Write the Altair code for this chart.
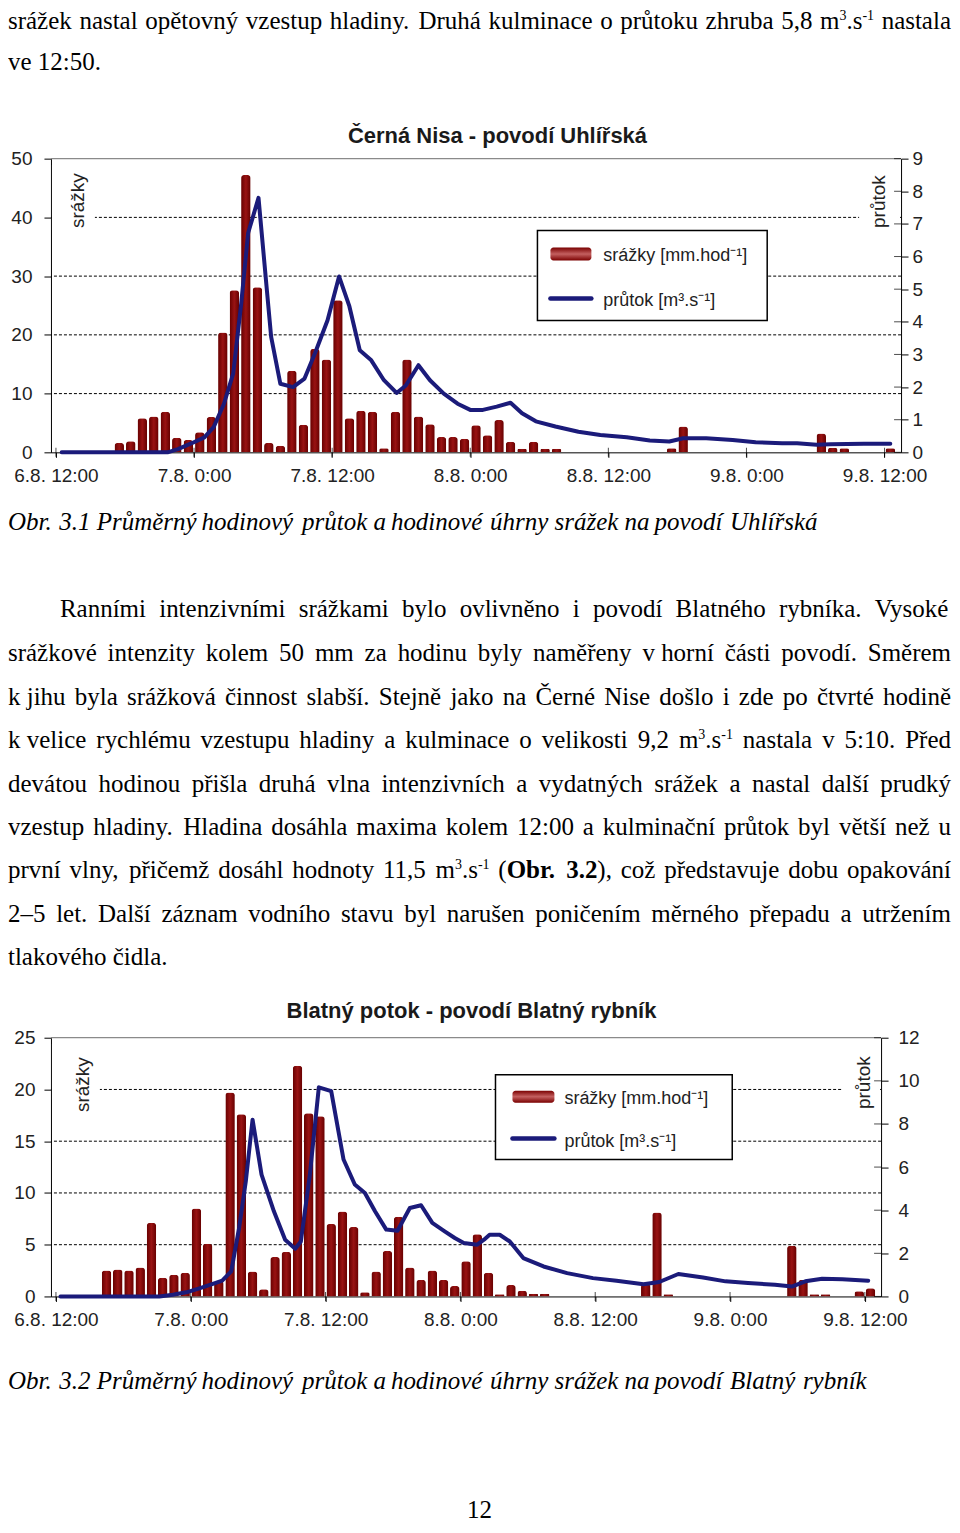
import unicodedata
import altair as alt
import pandas as pd

# ------------------------------------------------------------------ data
TICK_HOURS = [0, 12, 24, 36, 48, 60, 72]
TICK_LABELS = ["6.8. 12:00", "7.8. 0:00", "7.8. 12:00", "8.8. 0:00",
               "8.8. 12:00", "9.8. 0:00", "9.8. 12:00"]

# Černá Nisa – povodí Uhlířská
C1_BAR_HOURS = [5.5, 6.5, 7.5, 8.5, 9.5, 10.5, 11.5, 12.5, 13.5, 14.5, 15.5, 16.5,
                17.5, 18.5, 19.5, 20.5, 21.5, 22.5, 23.5, 24.5, 25.5, 26.5, 27.5,
                28.5, 29.5, 30.5, 31.5, 32.5, 33.5, 34.5, 35.5, 36.5, 37.5, 38.5,
                39.5, 40.5, 41.5, 42.5, 43.5, 53.5, 54.5, 66.5, 67.5, 68.5, 72.5]
C1_BAR_VALS = [1.6, 1.9, 5.8, 6.1, 6.9, 2.5, 2.1, 3.4, 6.0, 20.4, 27.6, 47.2,
               28.1, 1.6, 1.1, 13.9, 4.7, 17.6, 15.8, 25.9, 5.8, 7.1, 6.9,
               0.7, 6.9, 15.8, 6.1, 4.8, 2.6, 2.6, 2.3, 4.6, 2.9, 5.5,
               1.8, 0.6, 1.8, 0.6, 0.6, 0.7, 4.4, 3.2, 0.8, 0.7, 0.7]
C1_FLOW_HOURS = [0.5, 9.7, 10.6, 11.8, 12.9, 13.7, 14.6, 15.4, 16.1, 16.7, 17.6, 18.3,
                 18.7, 19.5, 20.6, 21.6, 22.5, 23.6, 24.6, 25.5, 26.4, 27.4, 28.5,
                 29.6, 30.4, 31.5, 32.5, 33.7, 34.9, 36.0, 37.1, 38.3, 39.5, 40.5,
                 41.7, 43.4, 45.4, 47.3, 49.6, 51.6, 53.3, 54.5, 56.5, 58.8, 60.8,
                 63.1, 64.4, 66.1, 67.3, 70.2, 72.5]
C1_FLOW_VALS = [0, 0, 0.1, 0.28, 0.46, 0.77, 1.49, 2.41, 4.57, 6.72, 7.8, 5.08,
                3.54, 2.1, 2.0, 2.26, 3.03, 4.05, 5.39, 4.47, 3.13, 2.82, 2.21,
                1.82, 2.05, 2.67, 2.21, 1.8, 1.49, 1.3, 1.3, 1.4, 1.52, 1.2,
                0.95, 0.79, 0.63, 0.53, 0.46, 0.36, 0.33, 0.43, 0.43, 0.38, 0.31,
                0.28, 0.28, 0.23, 0.25, 0.26, 0.26]
C1_LEFT_TICKS = [0, 10, 20, 30, 40, 50]
C1_GRID = [10, 20, 30, 40]
C1_RIGHT_TICKS = [0, 1, 2, 3, 4, 5, 6, 7, 8, 9]

# Blatný potok – povodí Blatný rybník
C2_BAR_HOURS = [4.5, 5.5, 6.5, 7.5, 8.5, 9.5, 10.5, 11.5, 12.5, 13.5, 14.5, 15.5,
                16.5, 17.5, 18.5, 19.5, 20.5, 21.5, 22.5, 23.5, 24.5, 25.5, 26.5,
                27.5, 28.5, 29.5, 30.5, 31.5, 32.5, 33.5, 34.5, 35.5, 36.5, 37.5,
                38.5, 39.5, 40.5, 41.5, 42.5, 43.5, 52.5, 53.5, 54.5, 65.5, 66.5,
                67.5, 68.5, 71.5, 72.5]
C2_BAR_VALS = [2.5, 2.6, 2.5, 2.8, 7.1, 1.8, 2.1, 2.3, 8.5, 5.1, 1.5, 19.7,
               17.6, 2.4, 0.7, 3.8, 4.3, 22.3, 17.7, 17.4, 7.0, 8.2, 6.7,
               0.4, 2.4, 4.4, 7.7, 2.8, 1.6, 2.5, 1.6, 1.0, 3.4, 6.0,
               2.3, 0.2, 1.1, 0.55, 0.25, 0.25, 1.2, 8.1, 0.2, 4.9, 1.6,
               0.2, 0.2, 0.5, 0.8]
C2_FLOW_HOURS = [0.4, 9.2, 10.4, 11.6, 12.7, 13.9, 14.8, 15.6, 16.3, 16.9, 17.5, 18.3,
                 19.4, 20.4, 21.3, 21.8, 22.6, 23.4, 24.5, 25.6, 26.6, 27.5, 28.4,
                 29.4, 30.4, 31.5, 32.5, 33.5, 34.6, 35.5, 36.3, 37.5, 38.1, 38.6,
                 39.5, 40.4, 41.6, 43.4, 45.5, 47.8, 49.9, 52.3, 53.7, 55.4, 57.6,
                 59.6, 61.6, 64.0, 65.5, 66.7, 68.2, 70.0, 72.3]
C2_FLOW_VALS = [0, 0, 0.08, 0.19, 0.36, 0.57, 0.73, 1.16, 3.17, 5.34, 8.2, 5.65,
                3.95, 2.63, 2.21, 2.55, 5.65, 9.7, 9.52, 6.35, 5.19, 4.8, 3.95,
                3.1, 3.05, 4.1, 4.23, 3.41, 3.02, 2.71, 2.48, 2.4, 2.63, 2.86,
                2.86, 2.55, 1.78, 1.39, 1.08, 0.85, 0.73, 0.57, 0.67, 1.04, 0.88,
                0.7, 0.62, 0.54, 0.46, 0.7, 0.82, 0.8, 0.73]
C2_LEFT_TICKS = [0, 5, 10, 15, 20, 25]
C2_GRID = [5, 10, 15, 20]
C2_RIGHT_TICKS = [0, 2, 4, 6, 8, 10, 12]

TITLE_1 = "Černá Nisa - povodí Uhlířská"
TITLE_2 = "Blatný potok - povodí Blatný rybník"
LEG_RAIN = "srážky [mm.hod⁻¹]"
LEG_FLOW = "průtok [m³.s⁻¹]"
AX_RAIN = "srážky"
AX_FLOW = "průtok"

# page text: pieces (text, style) n=normal b=bold i=italic s=superscript
NB = "\u00a0"
TOP_LINES = [
    [("srážek nastal opětovný vzestup hladiny. Druhá kulminace o průtoku zhruba 5,8 m", "n"),
     ("3", "s"), (".s", "n"), ("-1", "s"), (" nastala", "n")],
    [("ve 12:50.", "n")],
]
CAPTION_1 = [("Obr. 3.1 Průměrný hodinový průtok a hodinové úhrny srážek na povodí Uhlířská", "i")]
PARAGRAPH = [
    [("Ranními intenzivními srážkami bylo ovlivněno i povodí Blatného rybníka. Vysoké", "n")],
    [("srážkové intenzity kolem 50 mm za hodinu byly naměřeny v" + NB + "horní části povodí. Směrem", "n")],
    [("k" + NB + "jihu byla srážková činnost slabší. Stejně jako na Černé Nise došlo i zde po čtvrté hodině", "n")],
    [("k" + NB + "velice rychlému vzestupu hladiny a kulminace o velikosti 9,2 m", "n"),
     ("3", "s"), (".s", "n"), ("-1", "s"), (" nastala v 5:10. Před", "n")],
    [("devátou hodinou přišla druhá vlna intenzivních a vydatných srážek a nastal další prudký", "n")],
    [("vzestup hladiny. Hladina dosáhla maxima kolem 12:00 a kulminační průtok byl větší než u", "n")],
    [("první vlny, přičemž dosáhl hodnoty 11,5 m", "n"), ("3", "s"), (".s", "n"), ("-1", "s"),
     (" (", "n"), ("Obr. 3.2", "b"), ("), což představuje dobu opakování", "n")],
    [("2–5 let. Další záznam vodního stavu byl narušen poničením měrného přepadu a utržením", "n")],
    [("tlakového čidla.", "n")],
]
CAPTION_2 = [("Obr. 3.2 Průměrný hodinový průtok a hodinové úhrny srážek na povodí Blatný rybník", "i")]
PAGE_NO = [("12", "n")]

# ------------------------------------------------------------------ styling / layout
SERIF = "Liberation Serif"
SANS = "Liberation Sans"
BODY_FS = 25
SUP_FS = 14
SUP_RISE = 9
TEXT_LEFT = 8
TEXT_RIGHT = 952
PLOT_LEFT = 51
C1_W, C1_H = 851, 294
C2_W, C2_H = 831, 259
AX_FS = 19

REG_W = {' ': 250, NB: 250, 'a': 444, 'b': 500, 'c': 444, 'd': 500, 'e': 444, 'f': 333,
         'g': 500, 'h': 500, 'i': 278, 'j': 278, 'k': 500, 'l': 278, 'm': 778, 'n': 500,
         'o': 500, 'p': 500, 'q': 500, 'r': 333, 's': 389, 't': 278, 'u': 500, 'v': 500,
         'w': 722, 'x': 500, 'y': 500, 'z': 444, 'A': 722, 'B': 667, 'C': 667, 'D': 722,
         'E': 611, 'F': 556, 'G': 722, 'H': 722, 'I': 333, 'J': 389, 'K': 722, 'L': 611,
         'M': 889, 'N': 722, 'O': 722, 'P': 556, 'Q': 722, 'R': 667, 'S': 556, 'T': 611,
         'U': 722, 'V': 722, 'W': 944, 'X': 722, 'Y': 722, 'Z': 611, '.': 250, ',': 250,
         ':': 278, ';': 278, '-': 333, '–': 500, '(': 333, ')': 333}
BOLD_W = {'O': 778, 'b': 556, 'r': 444}


def char_w(c, st):
    if st == 'b' and c in BOLD_W:
        return BOLD_W[c]
    if c.isdigit():
        return 500
    if c in REG_W:
        return REG_W[c]
    return REG_W.get(unicodedata.normalize('NFD', c)[0], 500)


def piece_w(text, st):
    fs = SUP_FS if st == 's' else BODY_FS
    return sum(char_w(c, st) for c in text) * fs / 1000.0


def layout_line(pieces, left, base, justify):
    words = [[]]
    for text, st in pieces:
        parts = text.split(' ')
        for k, part in enumerate(parts):
            if k > 0:
                words.append([])
            if part:
                words[-1].append((part, st))
    words = [w for w in words if w]
    widths = [sum(piece_w(t, s) for t, s in w) for w in words]
    if justify and len(words) > 1:
        gap = (TEXT_RIGHT - left - sum(widths)) / (len(words) - 1)
    else:
        gap = BODY_FS * 0.25
    rows, x = [], left
    for w, ww in zip(words, widths):
        cx = x
        for t, s in w:
            rows.append({'x': cx, 'y': base - (SUP_RISE if s == 's' else 0), 't': t, 'st': s})
            cx += piece_w(t, s)
        x += ww + gap
    return rows


STYLE_PROPS = {
    'n': dict(fontSize=BODY_FS),
    'b': dict(fontSize=BODY_FS, fontWeight='bold'),
    'i': dict(fontSize=BODY_FS, fontStyle='italic'),
    's': dict(fontSize=SUP_FS),
}


def text_cell(specs, origin, height):
    rows = []
    for pieces, left, base, justify in specs:
        rows += layout_line(pieces, left, base, justify)
    df = pd.DataFrame(rows)
    df['x'] = df['x'] - PLOT_LEFT
    df['y'] = df['y'] - origin
    layers = []
    for st, props in STYLE_PROPS.items():
        sub = df[df['st'] == st]
        if len(sub) == 0:
            continue
        layers.append(alt.Chart(sub).mark_text(font=SERIF, align='left', baseline='alphabetic',
                                               color='black', **props).encode(
            x=alt.X('x:Q', scale=None, axis=None),
            y=alt.Y('y:Q', scale=None, axis=None),
            text='t:N'))
    return alt.layer(*layers).properties(width=C1_W, height=height)


ONE = pd.DataFrame({'k': [0]})


def px_rect(x1, x2, y1, y2, **kw):
    return alt.Chart(ONE).mark_rect(**kw).encode(
        x=alt.value(x1), x2=alt.value(x2), y=alt.value(y1), y2=alt.value(y2))


def px_rule(x1, x2, y1, y2, **kw):
    return alt.Chart(ONE).mark_rule(**kw).encode(
        x=alt.value(x1), x2=alt.value(x2), y=alt.value(y1), y2=alt.value(y2))


def px_text(x, y, text, **kw):
    return alt.Chart(ONE).mark_text(**kw).encode(
        x=alt.value(x), y=alt.value(y), text=alt.value(text))


BAR_GRAD = alt.Gradient(gradient='linear', x1=0, x2=1, y1=0, y2=0, stops=[
    alt.GradientStop(offset=0, color='#660000'),
    alt.GradientStop(offset=0.5, color='#991313'),
    alt.GradientStop(offset=1, color='#660000')])
SWATCH_GRAD = alt.Gradient(gradient='linear', x1=0, x2=0, y1=0, y2=1, stops=[
    alt.GradientStop(offset=0, color='#7a0000'),
    alt.GradientStop(offset=0.5, color='#c46060'),
    alt.GradientStop(offset=1, color='#7a0000')])
FLOW_COLOR = '#1b1b7a'
LABEL_EXPR = ("[" + ",".join("'%s'" % s for s in TICK_LABELS) + "][indexof("
              + str(TICK_HOURS) + ", datum.value)]")


def axis_common():
    return dict(title=None, grid=False, domainColor='black', tickColor='black',
                labelFont=SANS, labelFontSize=AX_FS, labelColor='#222')


def build_chart(bar_h, bar_v, flow_h, flow_v, ymax, grid_vals, left_ticks, left_pad,
                rmax, right_ticks, right_pad, width, height, ov):
    xscale = alt.Scale(domain=[0, 73], nice=False, zero=False)
    xaxis = alt.Axis(values=TICK_HOURS, labelExpr=LABEL_EXPR, tickSize=5, labelPadding=9,
                     labelFlush=False, labelOverlap=False, **axis_common())
    lscale = alt.Scale(domain=[0, ymax], nice=False)
    laxis = alt.Axis(values=left_ticks, tickSize=7, labelPadding=left_pad, **axis_common())
    rscale = alt.Scale(domain=[0, rmax], nice=False)
    raxis = alt.Axis(orient='right', values=right_ticks, tickSize=7, labelPadding=right_pad,
                     **axis_common())

    grid = alt.Chart(pd.DataFrame({'v': grid_vals})).mark_rule(
        color='black', strokeDash=[3, 2], strokeWidth=1).encode(
        y=alt.Y('v:Q', scale=lscale, axis=laxis))
    bars = alt.Chart(pd.DataFrame({'h': bar_h, 'v': bar_v})).mark_bar(
        size=9.5, color=BAR_GRAD, cornerRadiusTopLeft=3, cornerRadiusTopRight=3).encode(
        x=alt.X('h:Q', scale=xscale, axis=xaxis),
        y=alt.Y('v:Q', scale=lscale, axis=laxis))
    xticks_in = alt.Chart(pd.DataFrame({'h': TICK_HOURS})).mark_tick(
        color='black', thickness=1, size=9).encode(
        x=alt.X('h:Q', scale=xscale, axis=xaxis), y=alt.value(height))
    top_border = px_rule(0, width, 0, 0, color='#8a8a8a', strokeWidth=1.2)
    whites = [px_rect(*ov['white_l'], color='white'), px_rect(*ov['white_r'], color='white')]
    overlay = [
        px_text(ov['title'][0], ov['title'][1], ov['title_text'], font=SANS, fontSize=22,
                fontWeight='bold', color='#1a1a1a', align='center', baseline='alphabetic'),
        px_text(ov['ax_l'][0], ov['ax_l'][1], AX_RAIN, font=SANS, fontSize=19, angle=270,
                color='#222', align='center', baseline='middle'),
        px_text(ov['ax_r'][0], ov['ax_r'][1], AX_FLOW, font=SANS, fontSize=19, angle=270,
                color='#222', align='center', baseline='middle'),
        px_rect(*ov['box'], fill='white', stroke='black', strokeWidth=1.5),
        px_rect(*ov['sw_rain'], color=SWATCH_GRAD, cornerRadius=3),
        px_rule(ov['sw_flow'][0], ov['sw_flow'][1], ov['sw_flow'][2], ov['sw_flow'][2],
                color=FLOW_COLOR, strokeWidth=4.5, strokeCap='round'),
        px_text(ov['t_rain'][0], ov['t_rain'][1], LEG_RAIN, font=SANS, fontSize=18,
                color='#222', align='left', baseline='alphabetic'),
        px_text(ov['t_flow'][0], ov['t_flow'][1], LEG_FLOW, font=SANS, fontSize=18,
                color='#222', align='left', baseline='alphabetic'),
    ]
    left = alt.layer(grid, *whites, top_border, bars, xticks_in, *overlay)
    flow = alt.Chart(pd.DataFrame({'h': flow_h, 'q': flow_v})).mark_line(
        color=FLOW_COLOR, strokeWidth=4, strokeJoin='round', strokeCap='round').encode(
        x=alt.X('h:Q', scale=xscale, axis=xaxis),
        y=alt.Y('q:Q', scale=rscale, axis=raxis))
    rticks_in = alt.Chart(pd.DataFrame({'q': right_ticks})).mark_tick(
        color='black', thickness=1, size=7).encode(
        y=alt.Y('q:Q', scale=rscale, axis=raxis), x=alt.value(width - 3.5))
    right = alt.layer(flow, rticks_in)
    return alt.layer(left, right).resolve_scale(y='independent').properties(
        width=width, height=height)


# cell origins (page y of each stacked cell)
T1_O, C1_O, T2_O, C2_O, T3_O = 8, 158, 452, 1038, 1297
T3_H = 227


def r1(x, y):
    return (x - PLOT_LEFT, y - C1_O)


def r2(x, y):
    return (x - PLOT_LEFT, y - C2_O)


ov1 = dict(
    title=r1(498, 142), title_text=TITLE_1,
    ax_l=r1(78, 200), ax_r=r1(880, 201),
    white_l=(1, 44, 6, 72), white_r=(809, 850, 6, 72),
    box=(487, 717, 72, 162),
    sw_rain=(500, 541, 89, 102), sw_flow=(500, 541, 140),
    t_rain=r1(604, 260), t_flow=r1(604, 306),
)
ov2 = dict(
    title=r2(472, 1018), title_text=TITLE_2,
    ax_l=r2(83, 1085), ax_r=r2(865, 1083),
    white_l=(1, 49, 6, 62), white_r=(792, 830, 6, 62),
    box=(445, 682, 37, 122),
    sw_rain=(462, 504, 53, 65), sw_flow=(462, 504, 101),
    t_rain=r2(565, 1104), t_flow=r2(565, 1147),
)

chart1 = build_chart(C1_BAR_HOURS, C1_BAR_VALS, C1_FLOW_HOURS, C1_FLOW_VALS, 50, C1_GRID,
                     C1_LEFT_TICKS, 12, 9, C1_RIGHT_TICKS, 4, C1_W, C1_H, ov1)
chart2 = build_chart(C2_BAR_HOURS, C2_BAR_VALS, C2_FLOW_HOURS, C2_FLOW_VALS, 25, C2_GRID,
                     C2_LEFT_TICKS, 9, 12, C2_RIGHT_TICKS, 10, C2_W, C2_H, ov2)

PARA_BASES = [617, 661, 705, 748, 792, 835, 878, 922, 965]
t1 = text_cell([(TOP_LINES[0], TEXT_LEFT, 28, True),
                (TOP_LINES[1], TEXT_LEFT, 69, False)], T1_O, C1_O - T1_O)
t2_specs = [(CAPTION_1, TEXT_LEFT, 530, False)]
for i, (line, b) in enumerate(zip(PARAGRAPH, PARA_BASES)):
    left = 60 if i == 0 else TEXT_LEFT
    t2_specs.append((line, left, b, i < len(PARAGRAPH) - 1))
t2 = text_cell(t2_specs, T2_O, C2_O - T2_O)
t3 = text_cell([(CAPTION_2, TEXT_LEFT, 1390, False),
                (PAGE_NO, 467.5, 1519, False)], T3_O, T3_H)

page = alt.vconcat(t1, chart1, t2, chart2, t3, spacing=0, bounds='flush').properties(
    padding=0).configure_view(strokeWidth=0)

page.save("out.html", embed_options={"renderer": "svg", "actions": False})
